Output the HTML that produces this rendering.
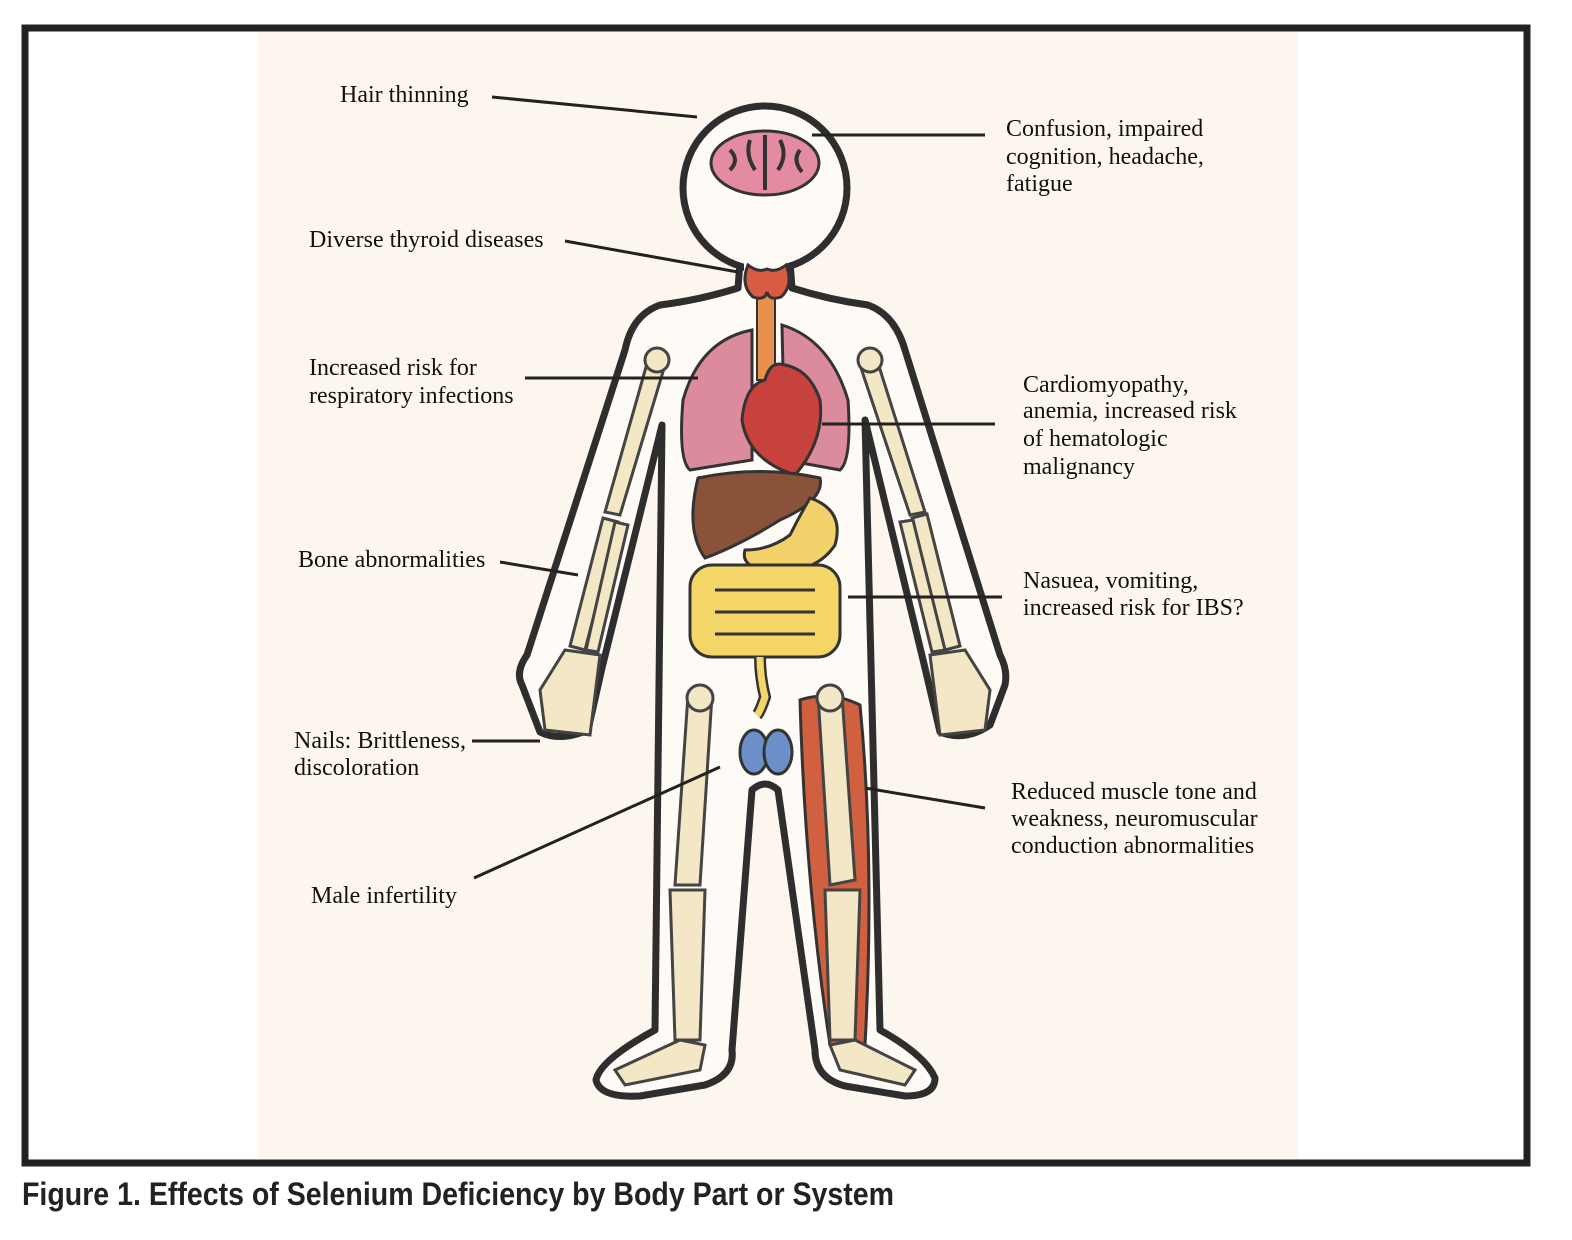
<!DOCTYPE html>
<html><head><meta charset="utf-8"><style>
html,body{margin:0;padding:0;background:#fff;}
svg{display:block;}
.t{font-family:"Liberation Serif",serif;font-size:24px;fill:#111;}
.l{stroke:#222;stroke-width:3;fill:none;}
.b{fill:#f4e7c6;stroke:#444;stroke-width:3;}
</style></head><body>
<svg width="1572" height="1240" viewBox="0 0 1572 1240" xmlns="http://www.w3.org/2000/svg">
<rect x="0" y="0" width="1572" height="1240" fill="#fff"/>
<rect x="258" y="30" width="1040" height="1132" fill="#fdf6ee"/>
<rect x="25" y="28" width="1502" height="1135" fill="none" stroke="#222" stroke-width="7"/>

<path d="M740,262 L738,288 Q700,300 660,305 Q632,315 625,350 L527,655 Q515,672 522,685 L540,732 Q560,742 588,730 L602,668 L662,425 L655,1030 Q600,1060 596,1080 Q600,1098 640,1096 L705,1085 Q735,1075 732,1050 L752,790 Q765,778 778,790 L815,1050 Q815,1078 845,1086 L905,1096 Q935,1096 935,1078 Q925,1055 880,1030 L865,420 L925,668 L940,732 Q965,742 990,725 L1005,685 Q1008,670 1000,655 L905,350 Q895,315 868,305 Q830,300 792,288 L790,262 Z" fill="#fefaf5" stroke="#2e2e2e" stroke-width="7" stroke-linejoin="round"/>
<circle cx="765" cy="188" r="82" fill="#fefaf5" stroke="#2e2e2e" stroke-width="7"/>
<rect x="744" y="255" width="42" height="20" fill="#fefaf5"/>

<ellipse cx="765" cy="163" rx="54" ry="32" fill="#e48ba1" stroke="#333" stroke-width="3"/>
<path d="M730,150 q10,10 0,20 M750,140 q-5,15 5,30 M780,140 q8,15 -2,30 M800,150 q-8,10 2,22 M765,135 v55" stroke="#333" stroke-width="4" fill="none"/>

<rect x="757" y="290" width="18" height="90" fill="#e8914c" stroke="#333" stroke-width="2"/>
<path d="M748,265 q-8,20 5,32 q12,4 14,-5 q2,9 14,5 q13,-12 5,-32 q-10,8 -19,4 q-9,4 -19,-4z" fill="#d95b43" stroke="#333" stroke-width="3"/>

<path d="M752,330 Q700,340 683,400 Q678,460 690,470 L752,460 Z" fill="#dc8b9c" stroke="#333" stroke-width="3"/>
<path d="M782,325 Q830,340 848,400 Q852,460 840,470 L785,460 Z" fill="#dc8b9c" stroke="#333" stroke-width="3"/>
<path d="M765,380 Q745,385 742,420 Q748,460 795,475 Q825,440 820,400 Q810,370 785,365 Q770,360 765,380Z" fill="#c8423d" stroke="#333" stroke-width="3"/>

<path d="M698,478 Q760,465 820,478 Q825,500 780,520 Q740,545 705,558 Q685,530 698,478Z" fill="#8a5238" stroke="#333" stroke-width="3"/>
<path d="M810,498 Q845,510 835,545 Q815,575 770,570 Q740,568 745,550 Q770,550 790,535 Q800,515 810,498Z" fill="#f2d16b" stroke="#333" stroke-width="3"/>
<rect x="690" y="565" width="150" height="92" rx="22" fill="#f4d568" stroke="#333" stroke-width="3"/>
<path d="M715,590 h100 M715,612 h100 M715,634 h100" stroke="#333" stroke-width="3" fill="none"/>
<path d="M760,657 q0,20 5,40 q-5,15 -8,18" stroke="#333" stroke-width="12" fill="none"/>
<path d="M760,657 q0,20 5,40 q-5,15 -8,18" stroke="#f4d568" stroke-width="7" fill="none"/>

<ellipse cx="754" cy="752" rx="14" ry="22" fill="#6b8fc8" stroke="#333" stroke-width="3"/>
<ellipse cx="778" cy="752" rx="14" ry="22" fill="#6b8fc8" stroke="#333" stroke-width="3"/>

<path class="b" d="M648,360 L665,365 L620,515 L605,512Z"/>
<circle class="b" cx="657" cy="360" r="12"/>
<path class="b" d="M603,518 L618,522 L585,650 L570,646Z"/>
<path class="b" d="M615,522 L628,525 L598,652 L586,650Z"/>
<path class="b" d="M565,650 L600,655 L590,735 L545,730 L540,690Z"/>
<path class="b" d="M860,365 L877,360 L925,512 L910,515Z"/>
<circle class="b" cx="870" cy="360" r="12"/>
<path class="b" d="M912,518 L927,514 L960,646 L945,650Z"/>
<path class="b" d="M900,522 L913,520 L945,650 L932,652Z"/>
<path class="b" d="M930,655 L965,650 L990,690 L985,730 L940,735Z"/>

<path class="b" d="M688,695 L712,695 L700,885 L675,885Z"/>
<circle class="b" cx="700" cy="698" r="13"/>
<path class="b" d="M670,890 L705,890 L700,1040 L675,1040Z"/>
<path class="b" d="M615,1070 L680,1040 L705,1045 L700,1070 L625,1085Z"/>
<path d="M800,700 Q830,690 860,705 Q875,860 865,1045 L830,1045 Q805,880 800,700Z" fill="#d06040" stroke="#333" stroke-width="3"/>
<path class="b" d="M818,695 L842,695 L855,880 L830,885Z"/>
<circle class="b" cx="830" cy="698" r="13"/>
<path class="b" d="M825,890 L860,890 L855,1040 L830,1040Z"/>
<path class="b" d="M830,1045 L855,1040 L915,1070 L905,1085 L840,1070Z"/>

<path class="l" d="M492,97 L697,117"/>
<path class="l" d="M812,135 L985,135"/>
<path class="l" d="M565,241 L738,272"/>
<path class="l" d="M525,378 L698,378"/>
<path class="l" d="M822,424 L995,424"/>
<path class="l" d="M500,562 L578,575"/>
<path class="l" d="M848,597 L1002,597"/>
<path class="l" d="M472,741 L540,741"/>
<path class="l" d="M474,878 L720,767"/>
<path class="l" d="M865,788 L985,808"/>

<text class="t" x="340" y="102">Hair thinning</text>
<text class="t" x="1006" y="136">Confusion, impaired</text>
<text class="t" x="1006" y="164">cognition, headache,</text>
<text class="t" x="1006" y="191">fatigue</text>
<text class="t" x="309" y="247">Diverse thyroid diseases</text>
<text class="t" x="309" y="375">Increased risk for</text>
<text class="t" x="309" y="403">respiratory infections</text>
<text class="t" x="1023" y="392">Cardiomyopathy,</text>
<text class="t" x="1023" y="418">anemia, increased risk</text>
<text class="t" x="1023" y="446">of hematologic</text>
<text class="t" x="1023" y="474">malignancy</text>
<text class="t" x="298" y="567">Bone abnormalities</text>
<text class="t" x="1023" y="588">Nasuea, vomiting,</text>
<text class="t" x="1023" y="615">increased risk for IBS?</text>
<text class="t" x="294" y="748">Nails: Brittleness,</text>
<text class="t" x="294" y="775">discoloration</text>
<text class="t" x="311" y="903">Male infertility</text>
<text class="t" x="1011" y="799">Reduced muscle tone and</text>
<text class="t" x="1011" y="826">weakness, neuromuscular</text>
<text class="t" x="1011" y="853">conduction abnormalities</text>

<text x="22" y="1205" font-family="Liberation Sans Narrow, Liberation Sans, sans-serif" font-weight="bold" font-size="32" fill="#222" textLength="872" lengthAdjust="spacingAndGlyphs">Figure 1. Effects of Selenium Deficiency by Body Part or System</text>
</svg>
</body></html>
